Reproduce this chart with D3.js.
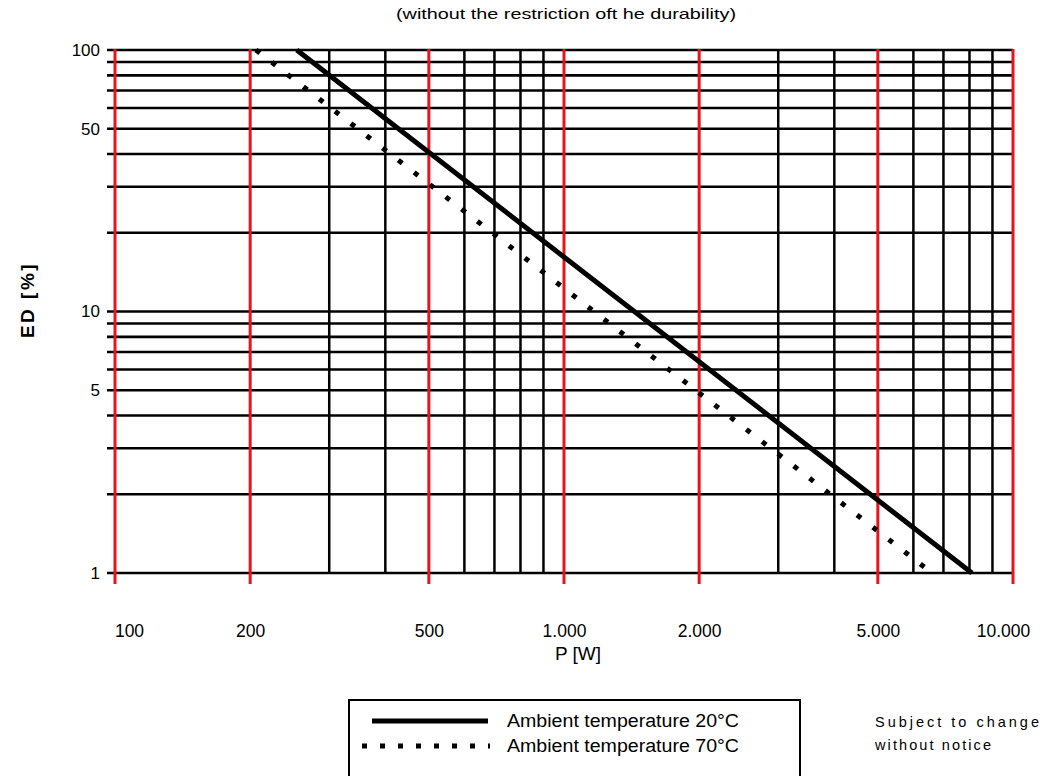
<!DOCTYPE html>
<html>
<head>
<meta charset="utf-8">
<script src="https://cdn.jsdelivr.net/npm/d3@7"></script>
<style>
  body { margin: 0; background: #fff; }
  text { font-family: "Liberation Sans", Arial, sans-serif; fill: #000; }
</style>
</head>
<body>
<script>
// Sets width and height of SVG object
var w = 1042;
var h = 776;

// tick labels / grid values
var xRedTicks = [100, 200, 500, 1000, 2000, 5000, 10000];
var xBlackGrid = [300, 400, 600, 700, 800, 900, 3000, 4000, 6000, 7000, 8000, 9000];
var yTicks = [1, 5, 10, 50, 100];
var yGrid = [1, 2, 3, 4, 5, 6, 7, 8, 9, 10, 20, 30, 40, 50, 60, 70, 80, 90, 100];

// series
var power20 = [254, 8100];
var ed20 = [100, 1];
var power70 = [206, 6600];
var ed70 = [100, 1];

var labels = ["Ambient temperature 20\u00b0C", "Ambient temperature 70\u00b0C"];

var red = "#e8141b";

var svg = d3.select("body").append("svg").attr("width", w).attr("height", h);

var x = d3.scaleLog().domain([100, 10000]).range([115, 1013]);
var y = d3.scaleLog().domain([1, 100]).range([573, 50]);

// title
svg.append("text").attr("x", 566).attr("y", 19)
  .attr("text-anchor", "middle").style("font-size", "15px")
  .attr("textLength", 340).attr("lengthAdjust", "spacingAndGlyphs")
  .text("(without the restriction oft he durability)");

// horizontal grid
svg.selectAll("line.hgrid").data(yGrid).enter().append("line")
  .attr("class", "hgrid")
  .attr("x1", 107).attr("x2", x(10000))
  .attr("y1", function(d){ return y(d); })
  .attr("y2", function(d){ return y(d); })
  .attr("stroke", "#000").attr("stroke-width", 2.6);

// black vertical grid
svg.selectAll("line.vgrid").data(xBlackGrid).enter().append("line")
  .attr("class", "vgrid")
  .attr("x1", function(d){ return x(d); })
  .attr("x2", function(d){ return x(d); })
  .attr("y1", y(100)).attr("y2", y(1))
  .attr("stroke", "#000").attr("stroke-width", 2.5);

// red vertical grid
svg.selectAll("line.rgrid").data(xRedTicks).enter().append("line")
  .attr("class", "rgrid")
  .attr("x1", function(d){ return x(d); })
  .attr("x2", function(d){ return x(d); })
  .attr("y1", y(100) - 1).attr("y2", y(1) + 11)
  .attr("stroke", red).attr("stroke-width", 3);

// y axis labels
var yAxis = d3.axisLeft(y).tickValues(yTicks).tickSize(0).tickPadding(8)
  .tickFormat(d3.format("d"));
svg.append("g").attr("transform", "translate(108,0)").call(yAxis)
  .call(function(g){ g.select(".domain").remove(); })
  .selectAll("text").style("font-size", "17px")
  .style("font-family", "Liberation Sans, Arial, sans-serif").attr("fill", "#000");

// x axis labels, 1.000 style
var loc = d3.formatLocale({ decimal: ",", thousands: ".", grouping: [3], currency: ["", ""] });
var xAxis = d3.axisBottom(x).tickValues(xRedTicks).tickSize(0).tickPadding(0)
  .tickFormat(loc.format(","));
svg.append("g").attr("transform", "translate(0,637)").call(xAxis)
  .call(function(g){ g.select(".domain").remove(); })
  .selectAll("text").attr("dy", 0).style("font-size", "17.5px")
  .style("font-family", "Liberation Sans, Arial, sans-serif").attr("fill", "#000")
  .attr("dx", function(d){ return d == 100 ? 14 : (d == 10000 ? -10 : 0); });

// axis titles
svg.append("text").attr("x", 578).attr("y", 660)
  .attr("text-anchor", "middle").style("font-size", "19px").text("P [W]");
svg.append("text").attr("transform", "translate(34,300) rotate(-90)")
  .attr("text-anchor", "middle").style("font-size", "19px")
  .style("font-weight", "bold").style("letter-spacing", "2.5px").text("ED [%]");

// data lines
var line = d3.line().x(function(d){ return x(d[0]); }).y(function(d){ return y(d[1]); });

svg.append("path").datum(d3.zip(power20, ed20))
  .attr("d", line).attr("fill", "none")
  .attr("stroke", "#000").attr("stroke-width", 5);

svg.append("path").datum(d3.zip(power70, ed70))
  .attr("d", line).attr("fill", "none")
  .attr("stroke", "#000").attr("stroke-width", 5)
  .attr("stroke-dasharray", "5,15");

// legend
var leg = svg.append("g");
leg.append("rect").attr("x", 349).attr("y", 700).attr("width", 451).attr("height", 80)
  .attr("fill", "none").attr("stroke", "#000").attr("stroke-width", 2);
leg.append("line").attr("x1", 372).attr("x2", 488).attr("y1", 721).attr("y2", 721)
  .attr("stroke", "#000").attr("stroke-width", 5);
leg.append("line").attr("x1", 362).attr("x2", 490).attr("y1", 746).attr("y2", 746)
  .attr("stroke", "#000").attr("stroke-width", 5).attr("stroke-dasharray", "5,13");
leg.selectAll("text").data(labels).enter().append("text")
  .attr("x", 507).attr("y", function(d, i){ return 727 + i * 25; })
  .style("font-size", "18px")
  .attr("textLength", 232).attr("lengthAdjust", "spacingAndGlyphs")
  .text(function(d){ return d; });

// note
svg.append("text").attr("x", 875).attr("y", 727).style("font-size", "14.5px")
  .attr("textLength", 164).attr("lengthAdjust", "spacing").text("Subject to change");
svg.append("text").attr("x", 875).attr("y", 750).style("font-size", "14.5px")
  .attr("textLength", 116).attr("lengthAdjust", "spacing").text("without notice");
</script>
</body>
</html>
